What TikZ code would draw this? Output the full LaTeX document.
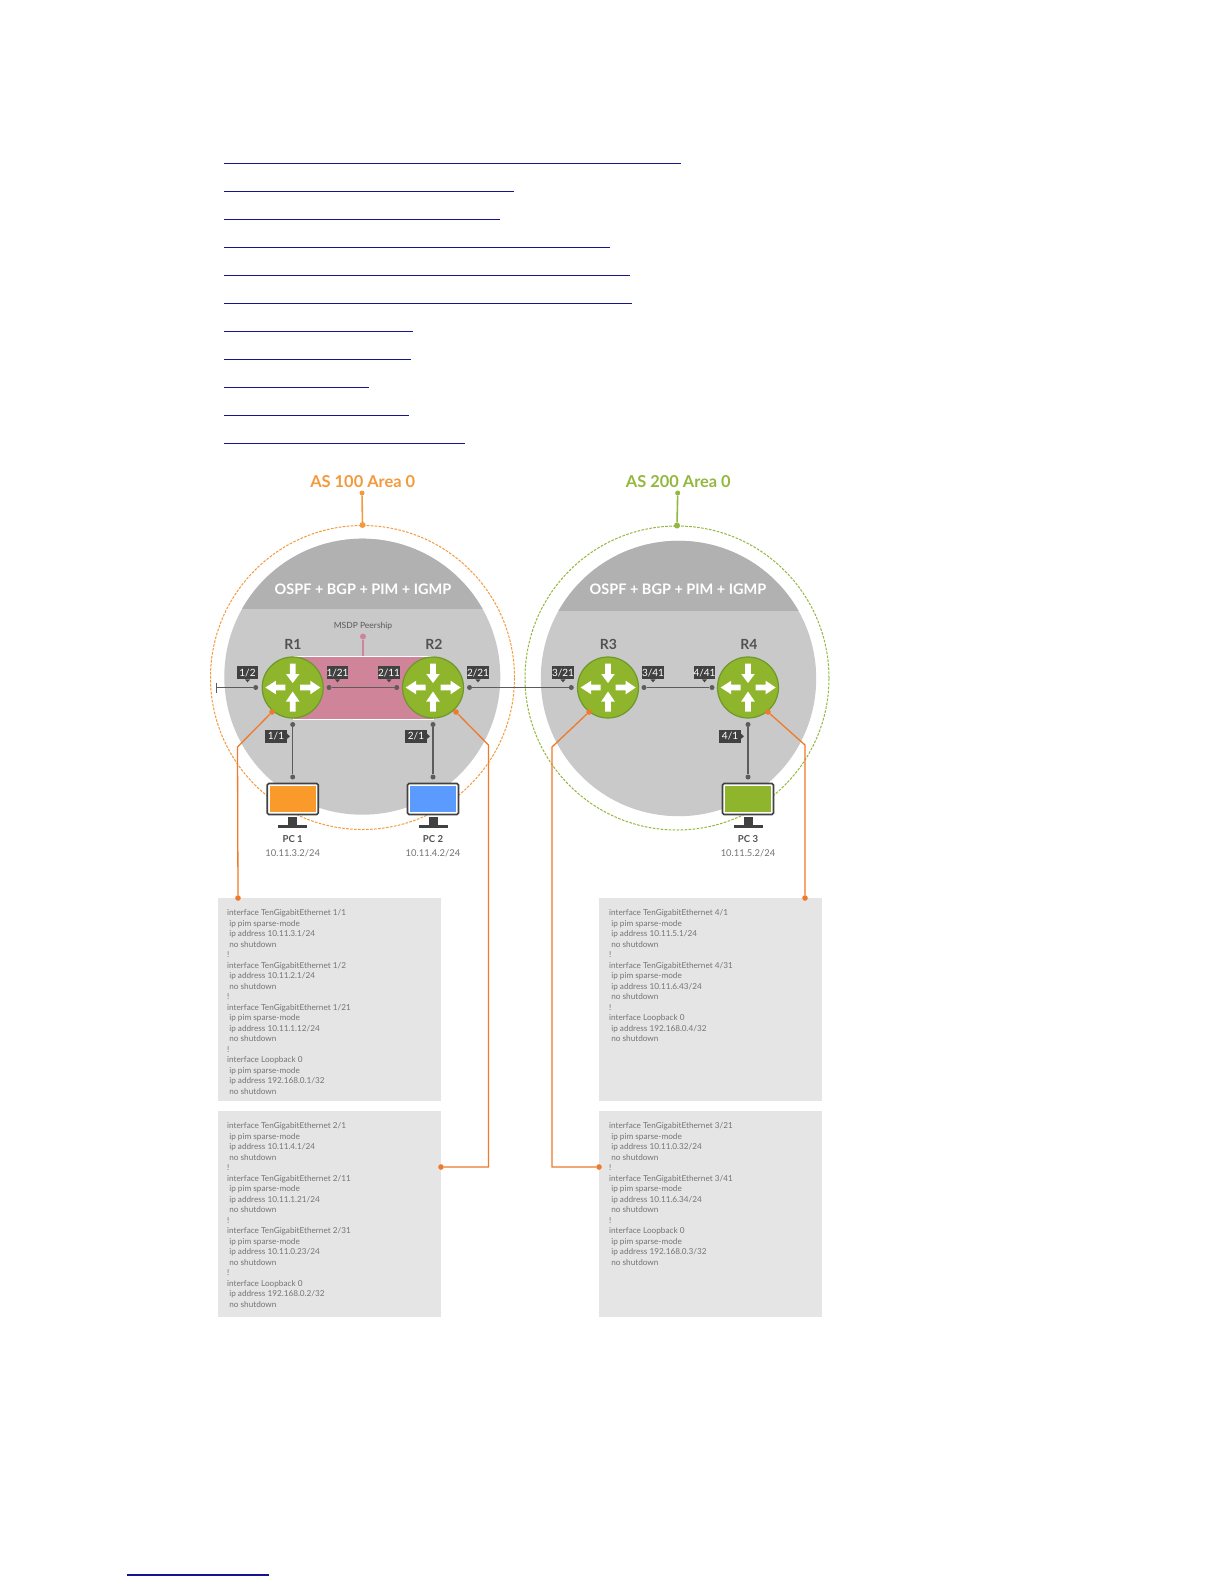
\documentclass[tikz,border=0pt]{standalone}
\usepackage{fontspec}
\setmainfont{Lato}
\definecolor{linkblue}{HTML}{14148F}
\definecolor{bandgrey}{HTML}{B1B1B1}
\definecolor{discgrey}{HTML}{C9C9C9}
\definecolor{boxgrey}{HTML}{E5E5E5}
\definecolor{cfgtext}{HTML}{747474}
\definecolor{tagdark}{HTML}{414141}
\definecolor{linkgrey}{HTML}{5C5C5C}
\definecolor{asorange}{HTML}{F39A3C}
\definecolor{asgreen}{HTML}{94B83E}
\definecolor{callout}{HTML}{EE7A2B}
\definecolor{pinkband}{HTML}{CF8499}
\definecolor{routergreen}{HTML}{8EB52B}
\definecolor{routeredge}{HTML}{6E982C}
\definecolor{pcorange}{HTML}{F99A2B}
\definecolor{pcblue}{HTML}{5B9BFF}
\tikzset{
  x=1pt,y=-1pt,
  ringbase/.style={circle,inner sep=0pt,minimum size=304pt},
  asring/.style={ringbase,draw=#1,line width=1pt,dash pattern=on 2.6pt off 1.4pt},
  astitle/.style={font=\fontsize{16.4}{20}\selectfont\bfseries,text=#1,inner sep=0pt},
  bandtext/.style={font=\fontsize{14.5}{18}\selectfont\bfseries,text=white,inner sep=0pt},
  routerbody/.style={circle,draw=routeredge,line width=1.2pt,fill=routergreen,minimum size=61pt,inner sep=0pt},
  routername/.style={font=\fontsize{14}{16}\selectfont\bfseries,text=black!68,inner sep=0pt},
  porttag/.style={fill=tagdark,text=white,font=\fontsize{10}{10}\selectfont,inner sep=0pt,minimum width=20.5pt,minimum height=13pt},
  sidetag/.style={porttag,minimum width=21.5pt},
  portdot/.style={circle,fill=linkgrey,inner sep=0pt,minimum size=5pt},
  linkline/.style={draw=linkgrey,line width=1.4pt},
  calldot/.style={circle,fill=callout,inner sep=0pt,minimum size=5.6pt},
  callline/.style={draw=callout,line width=1.3pt},
  asdot/.style={circle,fill=#1,inner sep=0pt,minimum size=5pt},
  asline/.style={draw=#1,line width=1.6pt},
  cfgbox/.style={fill=boxgrey,anchor=north west,inner sep=0pt,minimum width=#1,minimum height=203pt},
  cfgbody/.style={anchor=north west,align=left,inner sep=0pt,text=cfgtext,font=\fontsize{8.2}{10.5}\selectfont},
  monitor/.style={draw=tagdark,line width=1.6pt,fill=white,rounded corners=1.5pt,minimum width=51pt,minimum height=31pt,inner sep=0pt},
  pcscreen/.style={fill=#1,inner sep=0pt,minimum width=46pt,minimum height=26pt},
  pcname/.style={font=\fontsize{9.6}{11}\selectfont\bfseries,text=black!68,inner sep=0pt},
  pcaddr/.style={font=\fontsize{9.4}{12}\selectfont,text=black!55,inner sep=0pt},
  linkrule/.style={draw=linkblue,line width=1.3pt}
}
\newcommand{\routerarrows}[1]{%
  \begin{scope}[shift={(#1.center)}]
    \fill[white] (-2.8,-24) -- (2.8,-24) -- (2.8,-13.5) -- (6.8,-13.5) -- (0,-4.5) -- (-6.8,-13.5) -- (-2.8,-13.5) -- cycle;
    \fill[white] (-2.8,24) -- (2.8,24) -- (2.8,14) -- (6.8,14) -- (0,4) -- (-6.8,14) -- (-2.8,14) -- cycle;
    \fill[white] (-7.3,-2.8) -- (-7.3,2.8) -- (-16.8,2.8) -- (-16.8,6.8) -- (-27.3,0) -- (-16.8,-6.8) -- (-16.8,-2.8) -- cycle;
    \fill[white] (7.5,-2.8) -- (7.5,2.8) -- (17.6,2.8) -- (17.6,6.8) -- (27.7,0) -- (17.6,-6.8) -- (17.6,-2.8) -- cycle;
  \end{scope}}
\newcommand{\downtag}[3]{%
  \node[porttag] (#1) at (#2,672.6) {#3};
  \fill[tagdark] ([xshift=-2.6pt]#1.south) -- ([xshift=2.6pt]#1.south) -- ([yshift=-3pt]#1.south) -- cycle;}
\newcommand{\righttag}[3]{%
  \node[sidetag] (#1) at (#2,736.3) {#3};
  \fill[tagdark] ([yshift=2.6pt]#1.east) -- ([yshift=-2.6pt]#1.east) -- ([xshift=3pt]#1.east) -- cycle;}
\newcommand{\pcunit}[5]{%
  \node[monitor] (#1) at (#2,799) {};
  \node[pcscreen=#3] (#1s) at (#2,799) {};
  \fill[tagdark] (#2-4.5,817) rectangle (#2+4.5,824.5);
  \fill[tagdark] (#2-14.5,825) rectangle (#2+14.5,827.5);
  \node[pcname] (#1n) at (#2,839.5) {#4};
  \node[pcaddr] (#1a) at (#2,853.5) {#5};}
\begin{document}
\begin{tikzpicture}
\useasboundingbox (0,0) rectangle (1224,1584);
\fill[white] (0,0) rectangle (1224,1584);
% link rules
\foreach \yy/\xx in {163.3/681,191.3/513.7,219.3/500,247.3/610,275.3/630,303.3/632,331.3/413,359.3/411,387.3/369,415.3/409,443.3/465}
  \draw[linkrule] (224,\yy) -- (\xx,\yy);
\draw[linkrule] (127,1575) -- (269,1575);
% AS 100 domain
\begin{scope}
  \clip (362.3,676.7) circle[radius=138];
  \fill[discgrey] (220,530) rectangle (510,820);
  \fill[bandgrey] (220,530) rectangle (510,609);
\end{scope}
\node[asring=asorange] (as1) at (362.5,677.5) {};
\node[astitle=asorange] (as1t) at (362.7,482) {AS 100 Area 0};
\node[asdot=asorange] (as1p) at (362,493) {};
\node[asdot=asorange,minimum size=6pt] (as1q) at (as1.north) {};
\draw[asline=asorange] (as1p) -- (as1q);
\node[bandtext] (b1t) at (363,589.5) {OSPF + BGP + PIM + IGMP};
% AS 200 domain
\begin{scope}
  \clip (678.5,678.5) circle[radius=137.7];
  \fill[discgrey] (535,535) rectangle (825,825);
  \fill[bandgrey] (535,535) rectangle (825,610.7);
\end{scope}
\node[asring=asgreen] (as2) at (677,678) {};
\node[astitle=asgreen] (as2t) at (678.3,482) {AS 200 Area 0};
\node[asdot=asgreen] (as2p) at (677.7,493) {};
\node[asdot=asgreen,minimum size=6pt] (as2q) at (as2.north) {};
\draw[asline=asgreen] (as2p) -- (as2q);
\node[bandtext] (b2t) at (678,589.5) {OSPF + BGP + PIM + IGMP};
% MSDP peership
\node[fill=pinkband,draw=white,line width=.8pt,inner sep=0pt,minimum width=140pt,minimum height=63pt] (msdp) at (363,687.5) {};
\node[circle,fill=pinkband,inner sep=0pt,minimum size=6pt] (msdpp) at (363,636.5) {};
\draw[white,line width=2.6pt] (msdpp) -- (msdp.north);
\draw[pinkband,line width=1.3pt] (msdpp) -- (msdp.north);
\node[font=\fontsize{8.5}{10}\selectfont,text=black!65,inner sep=0pt] (msdpt) at (363,626) {MSDP Peership};
% routers
\node[routerbody] (r1) at (292.7,687.5) {};
\node[routerbody] (r2) at (433,687.5) {};
\node[routerbody] (r3) at (608,687.5) {};
\node[routerbody] (r4) at (748,687.5) {};
\routerarrows{r1}\routerarrows{r2}\routerarrows{r3}\routerarrows{r4}
\node[routername] (r1n) at (293,644) {R1};
\node[routername] (r2n) at (434,644) {R2};
\node[routername] (r3n) at (608.5,644) {R3};
\node[routername] (r4n) at (749,644) {R4};
% port dots and links
\node[portdot] (p12) at (255.7,687.5) {};
\coordinate (stub) at (216.7,687.5);
\draw[linkline] (stub) -- (p12);
\draw[linkline] (216.7,682.5) -- (216.7,692.5);
\node[portdot] (p121) at (329,687.5) {};
\node[portdot] (p211) at (396.7,687.5) {};
\draw[linkline] (p121) -- (p211);
\node[portdot] (p221) at (469.5,687.5) {};
\node[portdot] (p321) at (571.3,687.5) {};
\draw[linkline] (p221) -- (p321);
\node[portdot] (p341) at (644,687.5) {};
\node[portdot] (p441) at (712,687.5) {};
\draw[linkline] (p341) -- (p441);
\downtag{t12}{247.5}{1/2}
\downtag{t121}{337.5}{1/21}
\downtag{t211}{389}{2/11}
\downtag{t221}{478}{2/21}
\downtag{t321}{563}{3/21}
\downtag{t341}{653}{3/41}
\downtag{t441}{704.5}{4/41}
% PCs
\pcunit{pc1}{292.7}{pcorange}{PC 1}{10.11.3.2/24}
\pcunit{pc2}{433}{pcblue}{PC 2}{10.11.4.2/24}
\pcunit{pc3}{748}{routergreen}{PC 3}{10.11.5.2/24}
\foreach \nm/\xx in {a/292.7,b/433,c/748} {
  \node[portdot] (u\nm) at (\xx,724.5) {};
  \node[portdot] (d\nm) at (\xx,777) {};
  \draw[linkline] (u\nm) -- (d\nm);
}
\righttag{t11}{276}{1/1}
\righttag{t21}{416}{2/1}
\righttag{t41}{730}{4/1}
% configuration boxes
\node[cfgbox=223.5pt] (c1) at (217.5,898) {};
\node[cfgbox=223.5pt,minimum height=206pt] (c2) at (217.5,1111) {};
\node[cfgbox=223pt] (c3) at (599,898) {};
\node[cfgbox=223pt,minimum height=206pt] (c4) at (599,1111) {};
\node[cfgbody] (c1t) at (227,909.5) {interface TenGigabitEthernet 1/1\\
\ ip pim sparse-mode\\
\ ip address 10.11.3.1/24\\
\ no shutdown\\
!\\
interface TenGigabitEthernet 1/2\\
\ ip address 10.11.2.1/24\\
\ no shutdown\\
!\\
interface TenGigabitEthernet 1/21\\
\ ip pim sparse-mode\\
\ ip address 10.11.1.12/24\\
\ no shutdown\\
!\\
interface Loopback 0\\
\ ip pim sparse-mode\\
\ ip address 192.168.0.1/32\\
\ no shutdown};
\node[cfgbody] (c2t) at (227,1122.5) {interface TenGigabitEthernet 2/1\\
\ ip pim sparse-mode\\
\ ip address 10.11.4.1/24\\
\ no shutdown\\
!\\
interface TenGigabitEthernet 2/11\\
\ ip pim sparse-mode\\
\ ip address 10.11.1.21/24\\
\ no shutdown\\
!\\
interface TenGigabitEthernet 2/31\\
\ ip pim sparse-mode\\
\ ip address 10.11.0.23/24\\
\ no shutdown\\
!\\
interface Loopback 0\\
\ ip address 192.168.0.2/32\\
\ no shutdown};
\node[cfgbody] (c3t) at (609,909.5) {interface TenGigabitEthernet 4/1\\
\ ip pim sparse-mode\\
\ ip address 10.11.5.1/24\\
\ no shutdown\\
!\\
interface TenGigabitEthernet 4/31\\
\ ip pim sparse-mode\\
\ ip address 10.11.6.43/24\\
\ no shutdown\\
!\\
interface Loopback 0\\
\ ip address 192.168.0.4/32\\
\ no shutdown};
\node[cfgbody] (c4t) at (609,1122.5) {interface TenGigabitEthernet 3/21\\
\ ip pim sparse-mode\\
\ ip address 10.11.0.32/24\\
\ no shutdown\\
!\\
interface TenGigabitEthernet 3/41\\
\ ip pim sparse-mode\\
\ ip address 10.11.6.34/24\\
\ no shutdown\\
!\\
interface Loopback 0\\
\ ip pim sparse-mode\\
\ ip address 192.168.0.3/32\\
\ no shutdown};
% callouts
\node[calldot] (o1a) at (272,712) {};
\node[calldot] (o1b) at (238,898) {};
\coordinate (o1k) at (237.5,747);
\draw[callline] (o1a) -- (o1k) -- (o1b);
\node[calldot] (o2a) at (456,712) {};
\node[calldot] (o2b) at (441,1167) {};
\coordinate (o2k) at (488.5,745);
\coordinate (o2j) at (488.5,1167);
\draw[callline] (o2a) -- (o2k) -- (o2j) -- (o2b);
\node[calldot] (o3a) at (589,712) {};
\node[calldot] (o3b) at (599,1167) {};
\coordinate (o3k) at (552,747);
\coordinate (o3j) at (552,1167);
\draw[callline] (o3a) -- (o3k) -- (o3j) -- (o3b);
\node[calldot] (o4a) at (768,712) {};
\node[calldot] (o4b) at (805,898) {};
\coordinate (o4k) at (805,745);
\draw[callline] (o4a) -- (o4k) -- (o4b);
\end{tikzpicture}
\end{document}
